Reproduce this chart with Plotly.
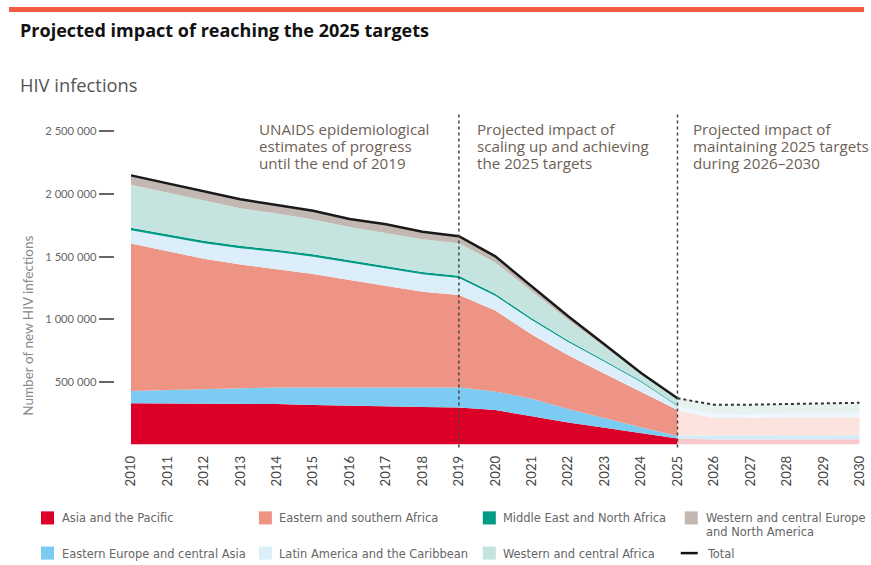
import plotly.graph_objects as go

W, H = 871, 565
# empirical page -> photo mapping of the viewer (photo = S * page + O)
S, O = 0.982, 8.0

# ---------------- data (thousands of new HIV infections) ----------------
years = list(range(2010, 2026))
proj_years = list(range(2025, 2031))
x_tick_years = list(range(2010, 2031))

asia_pacific = [329, 329, 329, 329, 323, 315, 308, 306, 299, 296, 275, 225, 175, 133, 88, 47]
eastern_europe_central_asia = [99, 104, 112, 120, 132, 140, 147, 149, 156, 159, 148, 140, 108, 75, 50, 21]
eastern_southern_africa = [1176, 1109, 1042, 988, 947, 907, 859, 813, 765, 738, 646, 514, 430, 357, 285, 207]
latin_america_caribbean = [106, 115, 123, 130, 135, 138, 140, 142, 140, 137, 118, 115, 105, 95, 75, 33]
middle_east_north_africa = [20, 20, 20, 19, 19, 19, 18, 18, 18, 18, 16, 14, 12, 10, 8, 6]
western_central_africa = [344, 335, 321, 300, 288, 278, 265, 262, 260, 259, 250, 215, 165, 110, 55, 45]
western_central_europe_na = [75, 73, 71, 70, 68, 66, 65, 63, 61, 59, 52, 42, 32, 24, 16, 10]
total = [2149, 2087, 2020, 1958, 1912, 1867, 1800, 1759, 1698, 1663, 1502, 1260, 1024, 799, 570, 369]

asia_pacific_proj = [47, 40, 40, 40, 40, 41]
eastern_europe_central_asia_proj = [25, 32, 33, 33, 33, 33]
eastern_southern_africa_proj = [200, 140, 140, 141, 142, 143]
latin_america_caribbean_proj = [33, 33, 33, 34, 35, 36]
middle_east_north_africa_proj = [6, 5, 5, 5, 5, 5]
western_central_africa_proj = [50, 62, 62, 63, 65, 70]
western_central_europe_na_proj = [8, 5, 5, 5, 5, 5]
total_proj = [369, 317, 318, 321, 325, 333]

y_tick_values = [500000, 1000000, 1500000, 2000000, 2500000]
y_tick_labels = ["500 000", "1 000 000", "1 500 000", "2 000 000", "2 500 000"]

region_names = [
    "Asia and the Pacific",
    "Eastern Europe and central Asia",
    "Eastern and southern Africa",
    "Latin America and the Caribbean",
    "Middle East and North Africa",
    "Western and central Africa",
    "Western and central Europe and North America",
]
region_series = [asia_pacific, eastern_europe_central_asia, eastern_southern_africa,
                 latin_america_caribbean, middle_east_north_africa,
                 western_central_africa, western_central_europe_na]
region_proj = [asia_pacific_proj, eastern_europe_central_asia_proj, eastern_southern_africa_proj,
               latin_america_caribbean_proj, middle_east_north_africa_proj,
               western_central_africa_proj, western_central_europe_na_proj]

period_lines = [
    ["UNAIDS epidemiological", "estimates of progress", "until the end of 2019"],
    ["Projected impact of", "scaling up and achieving", "the 2025 targets"],
    ["Projected impact of", "maintaining 2025 targets", "during 2026–2030"],
]

# ---------------- styles ----------------
colors = ["#dc0028", "#7ccbf2", "#ee9484", "#dceefa", "#009a85", "#c5e4e0", "#c3b8b1"]
faded = ["#f9c6c9", "#d3ecf9", "#fce3de", "#eef7fd", "#d6eeea", "#e7f2f0", "#eeeae7"]


def fpx(p):
    """photo pixel -> figure pixel"""
    return (p - O) / S


def px(p):
    return fpx(p) / W


def py(p):
    return 1 - fpx(p) / H


def fs(size):
    return size / S


fig = go.Figure()

for name, vals, col in zip(region_names, region_series, colors):
    fig.add_trace(go.Scatter(
        x=years, y=[v * 1000 for v in vals], stackgroup="hist", mode="lines",
        line=dict(width=0, color=col), fillcolor=col, name=name,
        showlegend=False, hoverinfo="skip"))

for name, vals, col in zip(region_names, region_proj, faded):
    fig.add_trace(go.Scatter(
        x=proj_years, y=[v * 1000 for v in vals], stackgroup="proj", mode="lines",
        line=dict(width=0, color=col), fillcolor=col, name=name + " (projection)",
        showlegend=False, hoverinfo="skip"))

fig.add_trace(go.Scatter(
    x=years, y=[v * 1000 for v in total], mode="lines",
    line=dict(color="#1a1a1a", width=2.5), name="Total", showlegend=False, hoverinfo="skip"))
fig.add_trace(go.Scatter(
    x=proj_years, y=[v * 1000 for v in total_proj], mode="lines",
    line=dict(color="#333333", width=2, dash="dot"), name="Total (projection)",
    showlegend=False, hoverinfo="skip"))

x_dom = [px(130), min(1.0, px(859))]
y_dom = [py(443), py(131.7)]

fig.update_layout(
    width=W, height=H, autosize=False,
    margin=dict(l=0, r=0, t=0, b=0),
    paper_bgcolor="white", plot_bgcolor="rgba(0,0,0,0)",
    font=dict(family="Lato, 'Open Sans', sans-serif", color="#555"),
    xaxis=dict(domain=x_dom, range=[2010, 2030], tickmode="array", tickvals=x_tick_years,
               ticktext=[str(y) for y in x_tick_years], tickangle=-90,
               tickfont=dict(size=fs(13), color="#444"), showgrid=False, zeroline=False,
               showline=False, ticks="outside", ticklen=5, tickcolor="rgba(0,0,0,0)",
               ticklabeloverflow="allow"),
    yaxis=dict(domain=y_dom, range=[0, 2500000], anchor="free", position=px(113),
               tickmode="array", tickvals=y_tick_values, ticktext=y_tick_labels,
               tickfont=dict(size=fs(11), color="#666"), showgrid=False, zeroline=False,
               showline=False, ticks="outside", ticklen=fs(15), tickwidth=1.5, tickcolor="#666"),
    showlegend=False,
)

shapes = []
shapes.append(dict(type="rect", xref="paper", yref="paper", x0=0, x1=1, y0=1 - 5 / H, y1=1,
                   fillcolor="#f15b40", line=dict(width=0)))
for yr in (2019, 2025):
    shapes.append(dict(type="line", xref="x", yref="paper", x0=yr, x1=yr, y0=py(446), y1=py(113),
                       line=dict(color="#444", width=1.5, dash="dot")))

annotations = []
annotations.append(dict(text="<b>Projected impact of reaching the 2025 targets</b>", xref="paper", yref="paper",
                        x=px(17), y=py(31), xanchor="left", yanchor="middle", showarrow=False,
                        font=dict(size=fs(17.7), color="#111", family="'Open Sans', Lato, sans-serif")))
annotations.append(dict(text="HIV infections", xref="paper", yref="paper",
                        x=px(17), y=py(85), xanchor="left", yanchor="middle", showarrow=False,
                        font=dict(size=fs(18), color="#555", family="'Open Sans', Lato, sans-serif")))
annotations.append(dict(text="Number of new HIV infections", xref="paper", yref="paper",
                        x=px(27), y=py(325), xanchor="center", yanchor="middle", showarrow=False,
                        textangle=-90, font=dict(size=fs(13.3), color="#888", family="Lato, sans-serif")))

for lines, xx in zip(period_lines, (257, 475, 691)):
    for i, t in enumerate(lines):
        annotations.append(dict(text=t, xref="paper", yref="paper", x=px(xx), y=py(129 + 17 * i),
                                xanchor="left", yanchor="middle", align="left", showarrow=False,
                                borderpad=0,
                                font=dict(size=fs(14.9), color="#6d5f56", family="'Open Sans', Lato, sans-serif")))

legend_font = dict(size=fs(12.5), color="#666", family="'Liberation Sans Narrow', 'DejaVu Sans Condensed', sans-serif")
legend_items = [
    (0, 40, 516, 60), (2, 258, 516, 277), (4, 482, 516, 501), (6, 684, 516, 704),
    (1, 40, 551, 60), (3, 258, 551, 277), (5, 482, 551, 501),
]
legend_text = {6: ["Western and central Europe", "and North America"]}
for idx, sx, cy, tx in legend_items:
    shapes.append(dict(type="rect", xref="paper", yref="paper", x0=px(sx), x1=px(sx + 13),
                       y0=py(cy + 6.5), y1=py(cy - 6.5), fillcolor=colors[idx], line=dict(width=0)))
    lines = legend_text.get(idx, [region_names[idx]])
    for i, t in enumerate(lines):
        annotations.append(dict(text=t, xref="paper", yref="paper", x=px(tx), y=py(cy + 14 * i),
                                xanchor="left", yanchor="middle", align="left", borderpad=0,
                                showarrow=False, font=legend_font))
shapes.append(dict(type="line", xref="paper", yref="paper", x0=px(680), x1=px(697),
                   y0=py(551), y1=py(551), line=dict(color="#111", width=2.5)))
annotations.append(dict(text="Total", xref="paper", yref="paper", x=px(704), y=py(551),
                        xanchor="left", yanchor="middle", showarrow=False, font=legend_font))

fig.update_layout(shapes=shapes, annotations=annotations)
fig.write_html("out.html", config={"displayModeBar": False},
               post_script="document.body.style.margin='0px';document.body.style.padding='0px';"
                           "document.documentElement.style.overflow='hidden';")
